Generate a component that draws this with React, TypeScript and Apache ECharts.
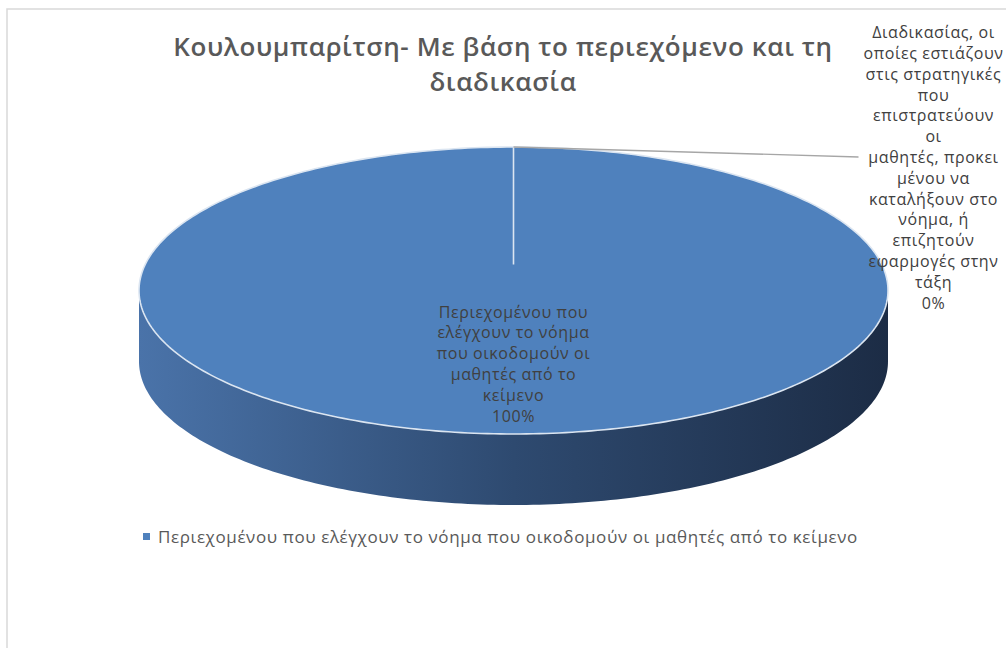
import React, { useEffect, useRef } from "react";
import * as echarts from "echarts";

const titleLines = ["Κουλουμπαρίτση- Με βάση το περιεχόμενο και τη", "διαδικασία"];
const categories = [
  "Περιεχομένου που ελέγχουν το νόημα που οικοδομούν οι μαθητές από το κείμενο",
  "Διαδικασίας, οι οποίες εστιάζουν στις στρατηγικές που επιστρατεύουν οι μαθητές, προκειμένου να καταλήξουν στο νόημα, ή επιζητούν εφαρμογές στην τάξη",
];
const values = [100, 0];
const sliceLabelLines = [
  ["Περιεχομένου που", "ελέγχουν το νόημα", "που οικοδομούν οι", "μαθητές από το", "κείμενο"],
  [
    "Διαδικασίας, οι",
    "οποίες εστιάζουν",
    "στις στρατηγικές",
    "που",
    "επιστρατεύουν",
    "οι",
    "μαθητές, προκει",
    "μένου να",
    "καταλήξουν στο",
    "νόημα, ή",
    "επιζητούν",
    "εφαρμογές στην",
    "τάξη",
  ],
];
const legendItems = [categories[0]];
const sliceColors = ["#4f81bd", "#c0504d"];

// layout of the 3D pie (screen geometry)
const CX = 513.5;
const CY = 290.5;
const RX = 374.5;
const RY = 143.5;
const PIVOT_DY = -26;
const DEPTH = 71;
const LABEL_FONT = "'Open Sans', 'Noto Sans', sans-serif";

const total = values.reduce((a, b) => a + b, 0);
const startAngles: number[] = [];
{
  let acc = 0;
  values.forEach((v) => {
    startAngles.push((acc / total) * Math.PI * 2);
    acc += v;
  });
}

function pt(theta: number, dy = 0): number[] {
  return [CX + RX * Math.sin(theta), CY - RY * Math.cos(theta) + dy];
}
function arc(a0: number, a1: number, dy = 0): number[][] {
  const n = Math.max(2, Math.ceil((a1 - a0) / (Math.PI / 180)));
  const out: number[][] = [];
  for (let k = 0; k <= n; k++) out.push(pt(a0 + ((a1 - a0) * k) / n, dy));
  return out;
}

function makeRender(i: number) {
  return (params: any, api: any) => {
    const v = api.value(0);
    const a0 = startAngles[i];
    const a1 = a0 + (v / total) * Math.PI * 2;
    const share = v / total;
    const pct = Math.round(share * 100) + "%";
    const children: any[] = [];
    // side wall (front half only)
    const lo = Math.max(a0, Math.PI / 2);
    const hi = Math.min(a1, (Math.PI * 3) / 2);
    if (hi > lo) {
      const top = arc(lo, hi, 0);
      const bottom = arc(lo, hi, DEPTH).reverse();
      children.push({
        type: "polygon",
        shape: { points: top.concat(bottom) },
        style: {
          fill: new echarts.graphic.LinearGradient(
            CX - RX,
            0,
            CX + RX,
            0,
            [
              { offset: 0, color: "#4a73a9" },
              { offset: 0.5, color: "#2e4a70" },
              { offset: 1, color: "#1c2c45" },
            ],
            true
          ),
          stroke: null,
        },
      });
    }
    // top face
    if (a1 > a0) {
      const pivot = [CX, CY + PIVOT_DY];
      children.push({
        type: "polygon",
        shape: { points: [pivot].concat(arc(a0, a1, 0)) },
        style: { fill: sliceColors[i], stroke: "#dbe5f1", lineWidth: 1.6 },
      });
    }
    const mid = (a0 + a1) / 2;
    const text = sliceLabelLines[i].join("\n") + "\n" + pct;
    if (share > 0.1) {
      const k = 0.51;
      children.push({
        type: "text",
        x: CX + RX * k * Math.sin(mid),
        y: CY - RY * k * Math.cos(mid),
        style: {
          text,
          fill: "#404040",
          font: `16px ${LABEL_FONT}`,
          lineHeight: 20.8,
          align: "center",
          verticalAlign: "middle",
        },
      });
    } else {
      const p = pt(mid, 0);
      const end = [p[0] + 345, p[1] + 10];
      children.push({
        type: "polyline",
        shape: { points: [p, end] },
        style: { stroke: "#a6a6a6", lineWidth: 1.3, fill: null },
      });
      children.push({
        type: "text",
        x: end[0] + 75,
        y: end[1] + 10.4,
        style: {
          text,
          fill: "#404040",
          font: `16px ${LABEL_FONT}`,
          lineHeight: 20.8,
          align: "center",
          verticalAlign: "middle",
        },
      });
    }
    return { type: "group", children };
  };
}

export default function App() {
  const ref = useRef<HTMLDivElement>(null);
  useEffect(() => {
    if (!ref.current) return;
    const chart = echarts.init(ref.current, null, { renderer: "svg" });
    chart.setOption({
      animation: false,
      backgroundColor: "#ffffff",
      title: {
        text: titleLines.join("\n"),
        left: "center",
        top: 28,
        padding: [0, 6, 0, 0],
        textStyle: {
          fontFamily: "'Open Sans', sans-serif",
          fontWeight: 600,
          fontSize: 26,
          lineHeight: 35,
          color: "#595959",
        },
      },
      legend: {
        data: legendItems,
        left: 138,
        top: 523,
        icon: "rect",
        itemWidth: 7,
        itemHeight: 7,
        textStyle: {
          fontFamily: LABEL_FONT,
          fontSize: 17,
          color: "#595959",
          padding: [0, 0, 0, 3],
        },
      },
      graphic: [
        {
          type: "rect",
          z: -10,
          shape: { x: 7, y: 9, width: 1020, height: 660 },
          style: { fill: "#ffffff", stroke: "#d9d9d9", lineWidth: 1.5 },
        },
      ],
      series: values.map((v, i) => ({
        type: "custom",
        name: categories[i],
        coordinateSystem: "none",
        silent: true,
        itemStyle: { color: sliceColors[i] },
        data: [[v]],
        renderItem: makeRender(i),
      })),
    });
    return () => chart.dispose();
  }, []);
  return (
    <>
      <style>{`.pie3d svg text { letter-spacing: 0.6px; }`}</style>
      <div
        ref={ref}
        className="pie3d"
        style={{ position: "fixed", left: 0, top: 0, width: 1006, height: 648 }}
      />
    </>
  );
}
